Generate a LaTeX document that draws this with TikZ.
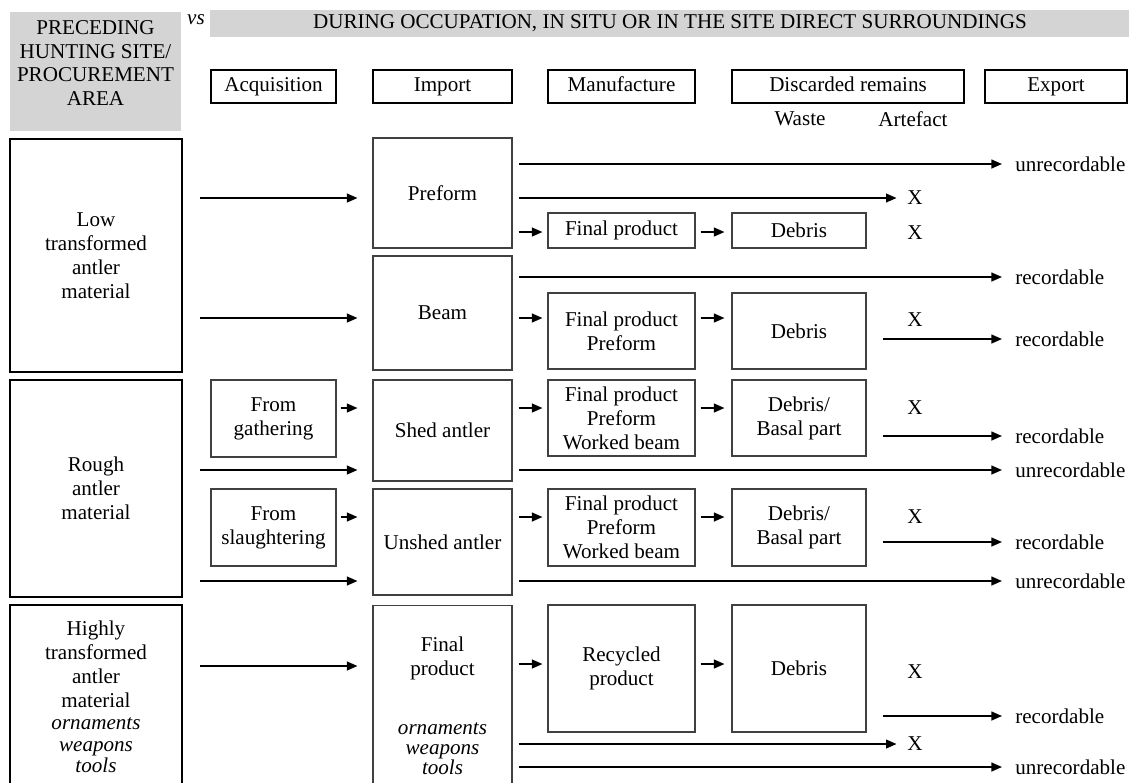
\documentclass[tikz,border=0pt]{standalone}
\usepackage{fontspec}
\setmainfont{Liberation Serif}
\usetikzlibrary{arrows.meta, positioning, calc}
\definecolor{hdrgray}{RGB}{212,212,212}

\begin{document}
\begin{tikzpicture}[x=0.02cm, y=-0.02cm, font=\fontsize{12}{13.6}\selectfont,
    box/.style={draw=black!75, line width=0.6pt, align=center, inner sep=1pt},
    matbox/.style={draw, line width=1.6pt, align=center, minimum width=3.44cm},
    headbox/.style={draw, line width=1.1pt, minimum height=0.66cm, inner sep=0pt, text height=1.6ex, text depth=0.4ex},
    lbl/.style={anchor=west, inner sep=0pt},
    xmark/.style={inner sep=0pt},
    arr/.style={-{Triangle[length=6pt, width=5pt]}, line width=0.9pt},
    feedarr/.style={arr, shorten <=0.34cm, shorten >=0.3cm},
    acqarr/.style={arr, shorten <=0.08cm, shorten >=0.3cm},
    smallarr/.style={arr, shorten <=0.12cm, shorten >=0.1cm},
    midarr/.style={arr, shorten <=0.1cm, shorten >=0.14cm},
    longarr/.style={arr, shorten <=0.12cm, shorten >=0.26cm},
    xarr/.style={arr, shorten <=0.12cm, shorten >=0.21cm},
    outarr/.style={arr, shorten <=0.32cm, shorten >=0.26cm}
]
    \clip (0,0) rectangle (1129,782);

    % Header
    \node[fill=hdrgray, minimum width=3.42cm, minimum height=2.38cm] (prec) at (95.5,71.5) {};
    \node[align=center] (prectxt) at (95.5,63) {PRECEDING\\HUNTING SITE/\\PROCUREMENT\\AREA};
    \node (vs) at (196,20) {\textit{vs}};
    \node[fill=hdrgray, minimum width=18.4cm, minimum height=0.54cm, inner sep=0pt] (during) at (670,23.5) {DURING OCCUPATION, IN SITU OR IN THE SITE DIRECT SURROUNDINGS};
    \foreach \n/\x/\w/\t in {acqh/273.5/2.5/Acquisition, imph/442.5/2.78/Import, manh/621.5/2.94/Manufacture, dish/848/4.64/Discarded remains, exph/1056/2.84/Export} {
        \node[headbox, minimum width=\w cm] (\n) at (\x,86.5) {\t};
    }
    \node (waste) at (800,119) {Waste};
    \node (arte) at (913,119) {Artefact};

    % Low transformed antler material
    \node[matbox, minimum height=4.66cm] (low) at (96,255.5) {Low\\transformed\\antler\\material};
    \node[box, minimum width=2.78cm, minimum height=2.2cm] (preform) at (442.5,193) {Preform};
    \node[box, minimum width=2.78cm, minimum height=2.28cm] (beam) at (442.5,313) {Beam};
    \node[box, minimum width=2.94cm, minimum height=0.7cm] (fp1) at (621.5,230.5) {Final product};
    \node[box, minimum width=2.68cm, minimum height=0.7cm] (deb1) at (799,230.5) {Debris};
    \node[box, minimum width=2.94cm, minimum height=1.52cm] (fp2) at (621.5,331) {Final product\\Preform};
    \node[box, minimum width=2.68cm, minimum height=1.52cm] (deb2) at (799,331) {Debris};
    \node[lbl] (u1) at (1015,164) {unrecordable};
    \node[xmark] (x1) at (915,198) {X};
    \node[xmark] (x2) at (915,233) {X};
    \node[lbl] (r1) at (1015,277) {recordable};
    \node[xmark] (x3) at (915,320) {X};
    \node[lbl] (r2) at (1015,339) {recordable};

    \draw[feedarr] (low.east |- 0,198) -- (preform.west |- 0,198);
    \draw[feedarr] (low.east |- 0,318) -- (beam.west |- 0,318);
    \draw[longarr] (preform.east |- u1) -- (u1.west);
    \draw[xarr] (preform.east |- x1) -- (x1.west);
    \draw[smallarr] (preform.east |- 0,232) -- (fp1.west |- 0,232);
    \draw[midarr] (fp1.east |- 0,232) -- (deb1.west |- 0,232);
    \draw[longarr] (beam.east |- r1) -- (r1.west);
    \draw[smallarr] (beam.east |- 0,318) -- (fp2.west |- 0,318);
    \draw[midarr] (fp2.east |- 0,318) -- (deb2.west |- 0,318);
    \draw[outarr] (deb2.east |- r2) -- (r2.west);

    % Rough antler material
    \node[matbox, minimum height=4.34cm] (rough) at (96,488.5) {Rough\\antler\\material};
    \node[box, minimum width=2.5cm, minimum height=1.54cm] (gath) at (273.5,418.5) {From\\gathering};
    \node[box, minimum width=2.78cm, minimum height=2.02cm] (shed) at (442.5,430.5) {Shed antler};
    \node[box, minimum width=2.94cm, minimum height=1.52cm] (fp3) at (621.5,418) {Final product\\Preform\\Worked beam};
    \node[box, minimum width=2.68cm, minimum height=1.52cm] (deb3) at (799,418) {Debris/\\Basal part};
    \node[xmark] (x4) at (915,408) {X};
    \node[lbl] (r3) at (1015,436) {recordable};
    \node[lbl] (u3) at (1015,470) {unrecordable};

    \node[box, minimum width=2.5cm, minimum height=1.54cm] (slau) at (273.5,527.5) {From\\slaughtering};
    \node[box, minimum width=2.78cm, minimum height=2.12cm] (unshed) at (442.5,542) {Unshed antler};
    \node[box, minimum width=2.94cm, minimum height=1.54cm] (fp4) at (621.5,527.5) {Final product\\Preform\\Worked beam};
    \node[box, minimum width=2.68cm, minimum height=1.54cm] (deb4) at (799,527.5) {Debris/\\Basal part};
    \node[xmark] (x5) at (915,517) {X};
    \node[lbl] (r4) at (1015,542) {recordable};
    \node[lbl] (u4) at (1015,581) {unrecordable};

    \draw[acqarr] (gath.east |- 0,408) -- (shed.west |- 0,408);
    \draw[feedarr] (rough.east |- 0,470) -- (shed.west |- 0,470);
    \draw[smallarr] (shed.east |- 0,408) -- (fp3.west |- 0,408);
    \draw[midarr] (fp3.east |- 0,408) -- (deb3.west |- 0,408);
    \draw[outarr] (deb3.east |- r3) -- (r3.west);
    \draw[longarr] (shed.east |- u3) -- (u3.west);
    \draw[acqarr] (slau.east |- 0,517) -- (unshed.west |- 0,517);
    \draw[feedarr] (rough.east |- 0,581) -- (unshed.west |- 0,581);
    \draw[smallarr] (unshed.east |- 0,517) -- (fp4.west |- 0,517);
    \draw[midarr] (fp4.east |- 0,517) -- (deb4.west |- 0,517);
    \draw[outarr] (deb4.east |- r4) -- (r4.west);
    \draw[longarr] (unshed.east |- u4) -- (u4.west);

    % Highly transformed antler material
    \node[matbox, minimum height=3.68cm] (high) at (96,697) {Highly\\transformed\\antler\\material\\[-1pt]\textit{ornaments}\\[-1.2pt]\textit{weapons}\\[-1.6pt]\textit{tools}};
    \node[box, minimum width=2.78cm, minimum height=4.02cm] (fpimp) at (442.5,705.5) {Final\\product\\[20pt]\textit{ornaments}\\[-2.2pt]\textit{weapons}\\[-2.2pt]\textit{tools}};
    \node[box, minimum width=2.94cm, minimum height=2.54cm] (recyc) at (621.5,668.5) {Recycled\\product};
    \node[box, minimum width=2.68cm, minimum height=2.54cm] (deb5) at (799,668.5) {Debris};
    \node[xmark] (x6) at (915,672) {X};
    \node[lbl] (r5) at (1015,716) {recordable};
    \node[xmark] (x7) at (915,744) {X};
    \node[lbl] (u5) at (1015,767) {unrecordable};

    \draw[feedarr] (high.east |- 0,666) -- (fpimp.west |- 0,666);
    \draw[smallarr] (fpimp.east |- 0,664) -- (recyc.west |- 0,664);
    \draw[midarr] (recyc.east |- 0,664) -- (deb5.west |- 0,664);
    \draw[outarr] (deb5.east |- r5) -- (r5.west);
    \draw[xarr] (fpimp.east |- x7) -- (x7.west);
    \draw[longarr] (fpimp.east |- u5) -- (u5.west);
\end{tikzpicture}
\end{document}
